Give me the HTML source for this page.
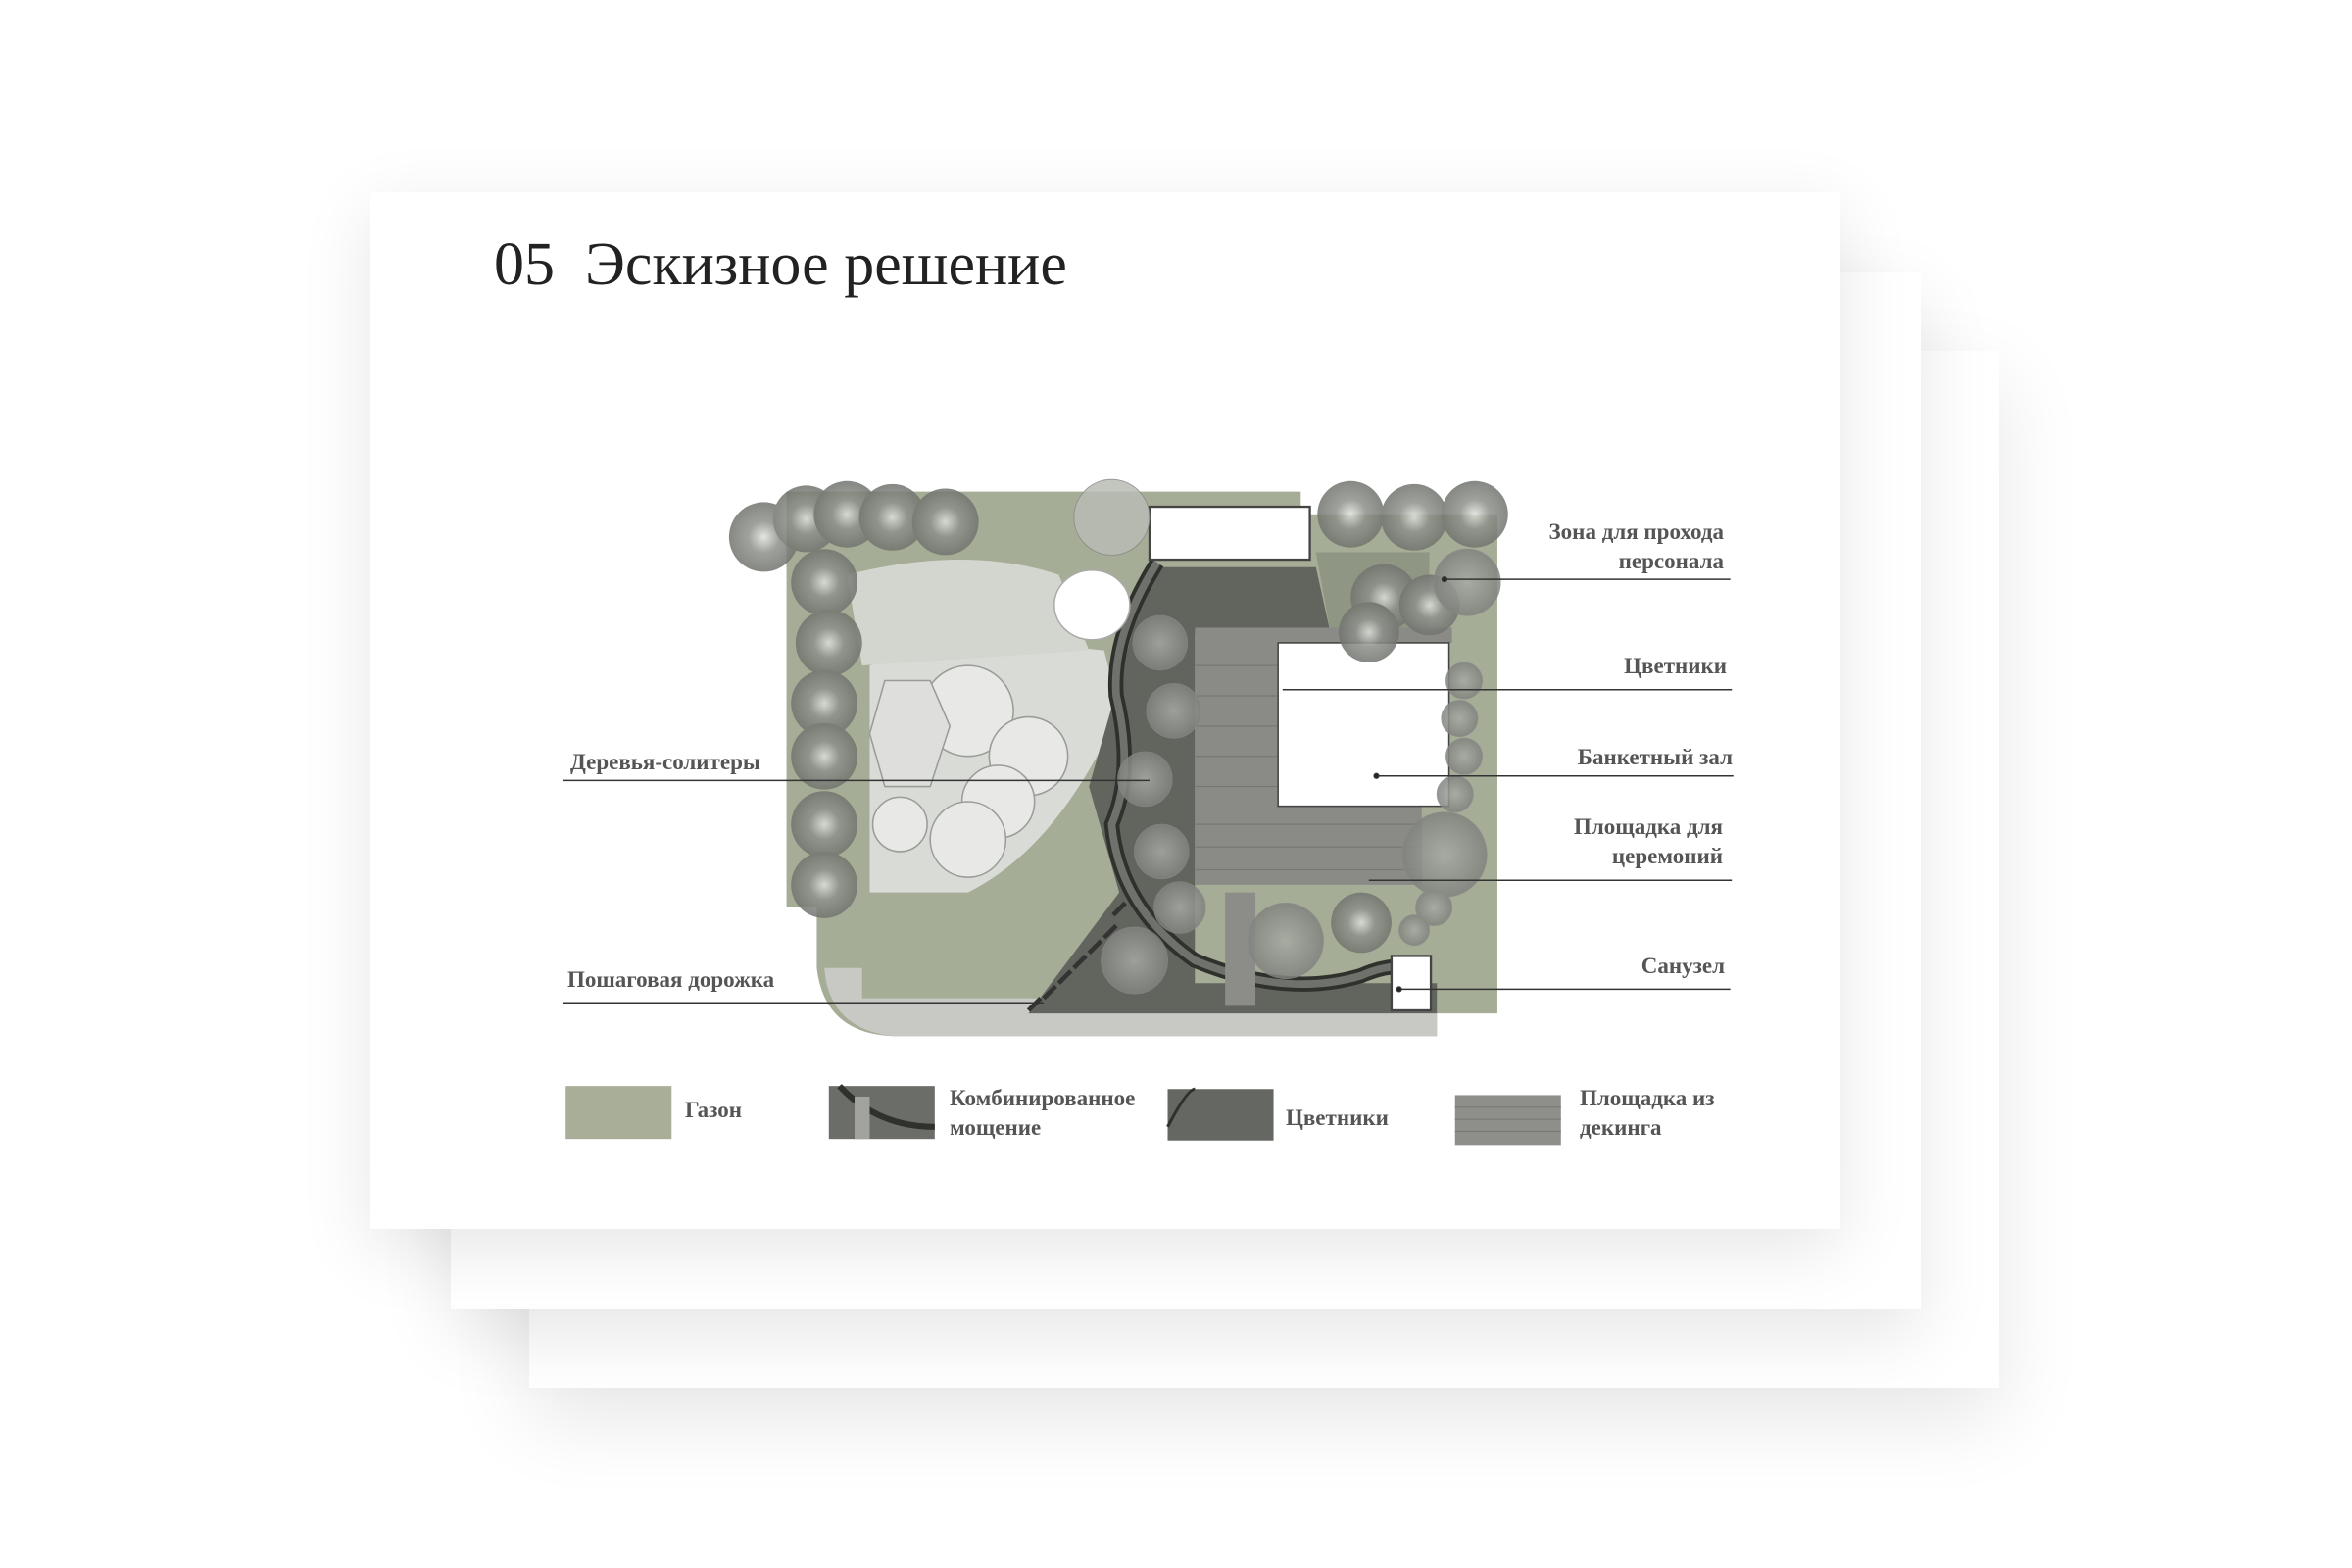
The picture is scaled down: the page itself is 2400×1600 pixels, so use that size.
<!DOCTYPE html>
<html><head><meta charset="utf-8"><style>
html,body{margin:0;padding:0;background:#fff;}
body{width:2400px;height:1600px;position:relative;overflow:hidden;font-family:"Liberation Serif","Noto Serif CJK SC",serif;}
.card{position:absolute;background:#fff;}
.t{position:absolute;color:#555;font-size:23px;font-weight:bold;white-space:nowrap;line-height:30px;}
.r{text-align:right;}
</style></head><body>
<div class="card" style="left:540px;top:358px;width:1500px;height:1058px;box-shadow:0 30px 80px rgba(0,0,0,0.10);"></div>
<div class="card" style="left:460px;top:278px;width:1500px;height:1058px;box-shadow:0 25px 70px rgba(0,0,0,0.10);"></div>
<div class="card" style="left:378px;top:196px;width:1500px;height:1058px;box-shadow:0 20px 70px rgba(0,0,0,0.10);"></div>

<div style="position:absolute;left:504px;top:230px;font-size:62px;color:#222;line-height:80px;white-space:nowrap;">05&nbsp;&nbsp;Эскизное решение</div>

<svg style="position:absolute;left:0;top:0" width="2400" height="1600" viewBox="0 0 2400 1600">
<defs>
<radialGradient id="tr" cx="50%" cy="50%" r="50%"><stop offset="0" stop-color="#e0e2dc"/><stop offset="0.45" stop-color="#8e918b"/><stop offset="1" stop-color="#71746e"/></radialGradient>
<radialGradient id="ct" cx="50%" cy="50%" r="50%"><stop offset="0" stop-color="#a8aba4"/><stop offset="1" stop-color="#80837e"/></radialGradient>
</defs>
<g transform="scale(1.5434)">
<path d="M520 325 L860 325 L860 340 L990 340 L990 670 L950 670 L950 685 L590 685 Q545 683 540 640 L540 600 L520 600 Z" fill="#a6ad96"/>
<path d="M575 440 Q640 420 730 430 L740 470 Q700 560 640 590 L575 590 Z" fill="#d9dcd6"/>
<path d="M560 380 Q640 360 700 380 L720 430 L570 440 Z" fill="#d3d6ce"/>
<path d="M570 660 L950 660 L950 685 L590 685 Q548 680 545 640 L570 640 Z" fill="#c8c9c4"/>
<path d="M760 375 L870 375 L880 420 L790 420 L790 650 L950 650 L950 670 L680 670 L740 590 L720 520 L740 450 Z" fill="#62655e"/>
<path d="M870 365 L945 365 L945 420 L880 420 Z" fill="#8f9784"/>
<path d="M765 372 Q735 420 738 460 Q750 510 735 545 Q740 600 790 635 Q850 660 900 645 Q920 636 940 640" fill="none" stroke="#2f312d" stroke-width="10"/>
<path d="M765 372 Q735 420 738 460 Q750 510 735 545 Q740 600 790 635 Q850 660 900 645 Q920 636 940 640" fill="none" stroke="#6f716c" stroke-width="5"/>
<path d="M790 415 L960 415 L960 425 L845 425 L845 533 L940 533 L940 585 L790 585 Z" fill="#8a8b86"/>
<g stroke="#777873" stroke-width="0.8">
<line x1="790" y1="440" x2="845" y2="440"/><line x1="790" y1="460" x2="845" y2="460"/><line x1="790" y1="480" x2="845" y2="480"/><line x1="790" y1="500" x2="845" y2="500"/><line x1="790" y1="520" x2="845" y2="520"/><line x1="790" y1="545" x2="940" y2="545"/><line x1="790" y1="560" x2="940" y2="560"/><line x1="790" y1="575" x2="940" y2="575"/>
</g>
<rect x="810" y="590" width="20" height="75" fill="#8c8d88"/>
<rect x="760" y="335" width="106" height="35" fill="#fff" stroke="#444" stroke-width="1.5"/>
<rect x="845" y="425" width="113" height="108" fill="#fff" stroke="#444" stroke-width="1"/>
<rect x="920" y="632" width="26" height="36" fill="#fff" stroke="#444" stroke-width="1.5"/>
<ellipse cx="722" cy="400" rx="25" ry="23" fill="#fff" stroke="#aaa"/>
<g fill="#e8e9e6" stroke="#9a9c97" stroke-width="1">
<circle cx="640" cy="470" r="30"/><circle cx="680" cy="500" r="26"/><circle cx="660" cy="530" r="24"/><circle cx="640" cy="555" r="25"/><circle cx="595" cy="545" r="18"/>
<path d="M585 450 L615 450 L628 480 L615 520 L585 520 L575 485 Z" fill="#dedfdc"/>
</g>
<g stroke="#333" stroke-width="3"><line x1="680" y1="668" x2="688" y2="660"/><line x1="690" y1="660" x2="698" y2="652"/><line x1="700" y1="650" x2="708" y2="642"/><line x1="710" y1="640" x2="718" y2="632"/><line x1="720" y1="630" x2="728" y2="622"/><line x1="730" y1="620" x2="738" y2="612"/><line x1="736" y1="605" x2="744" y2="597"/></g>
<g fill="url(#tr)" opacity="0.85">
<circle cx="505" cy="355" r="23"/><circle cx="533" cy="343" r="22"/><circle cx="560" cy="340" r="22"/><circle cx="590" cy="342" r="22"/><circle cx="625" cy="345" r="22"/>
<circle cx="545" cy="385" r="22"/><circle cx="548" cy="425" r="22"/><circle cx="545" cy="465" r="22"/><circle cx="545" cy="500" r="22"/><circle cx="545" cy="545" r="22"/><circle cx="545" cy="585" r="22"/>
<circle cx="893" cy="340" r="22"/><circle cx="935" cy="342" r="22"/><circle cx="975" cy="340" r="22"/><circle cx="915" cy="395" r="22"/><circle cx="905" cy="418" r="20"/><circle cx="945" cy="400" r="20"/>
<circle cx="900" cy="610" r="20"/>
</g>
<g fill="url(#ct)" opacity="0.85" stroke="#888" stroke-width="0.6">
<circle cx="735" cy="342" r="25" fill="#b9bcb4"/>
<circle cx="767" cy="425" r="18"/><circle cx="776" cy="470" r="18"/><circle cx="757" cy="515" r="18"/><circle cx="768" cy="563" r="18"/><circle cx="780" cy="600" r="17"/><circle cx="750" cy="635" r="22"/><circle cx="850" cy="622" r="25"/>
<circle cx="970" cy="385" r="22"/><circle cx="968" cy="450" r="12"/><circle cx="965" cy="475" r="12"/><circle cx="968" cy="500" r="12"/><circle cx="962" cy="525" r="12"/><circle cx="955" cy="565" r="28"/><circle cx="948" cy="600" r="12"/><circle cx="935" cy="615" r="10"/>
</g>
<g stroke="#333" stroke-width="1" fill="#222">
<line x1="955" y1="383" x2="1144" y2="383"/><circle cx="955" cy="383" r="1.5"/>
<line x1="848" y1="456" x2="1145" y2="456"/>
<line x1="910" y1="513" x2="1146" y2="513"/><circle cx="910" cy="513" r="1.5"/>
<line x1="905" y1="582" x2="1145" y2="582"/>
<line x1="925" y1="654" x2="1144" y2="654"/><circle cx="925" cy="654" r="1.5"/>
<line x1="372" y1="516" x2="760" y2="516"/>
<line x1="372" y1="663" x2="690" y2="663"/>
</g>
<rect x="374" y="718" width="70" height="35" fill="#a9ae99"/>
<rect x="548" y="718" width="70" height="35" fill="#6b6e68"/>
<path d="M555 718 Q580 745 618 745" fill="none" stroke="#2f312d" stroke-width="4"/>
<rect x="565" y="725" width="10" height="28" fill="#a2a39e"/>
<rect x="772" y="720" width="70" height="34" fill="#656862"/>
<path d="M772 745 Q785 720 790 720" fill="none" stroke="#2f312d" stroke-width="2"/>
<rect x="962" y="724" width="70" height="33" fill="#8e8f8a"/>
<g stroke="#7a7b77" stroke-width="0.8"><line x1="962" y1="732" x2="1032" y2="732"/><line x1="962" y1="740" x2="1032" y2="740"/><line x1="962" y1="748" x2="1032" y2="748"/></g>
</g>
</svg>

<div class="t r" style="right:641px;top:528px;">Зона для прохода<br>персонала</div>
<div class="t r" style="right:638px;top:665px;">Цветники</div>
<div class="t r" style="right:632px;top:758px;">Банкетный зал</div>
<div class="t r" style="right:642px;top:829px;">Площадка для<br>церемоний</div>
<div class="t r" style="right:640px;top:971px;">Санузел</div>
<div class="t" style="left:582px;top:763px;">Деревья-солитеры</div>
<div class="t" style="left:579px;top:985px;">Пошаговая дорожка</div>
<div class="t" style="left:699px;top:1118px;">Газон</div>
<div class="t" style="left:969px;top:1106px;">Комбинированное<br>мощение</div>
<div class="t" style="left:1312px;top:1126px;">Цветники</div>
<div class="t" style="left:1612px;top:1106px;">Площадка из<br>декинга</div>
</body></html>
